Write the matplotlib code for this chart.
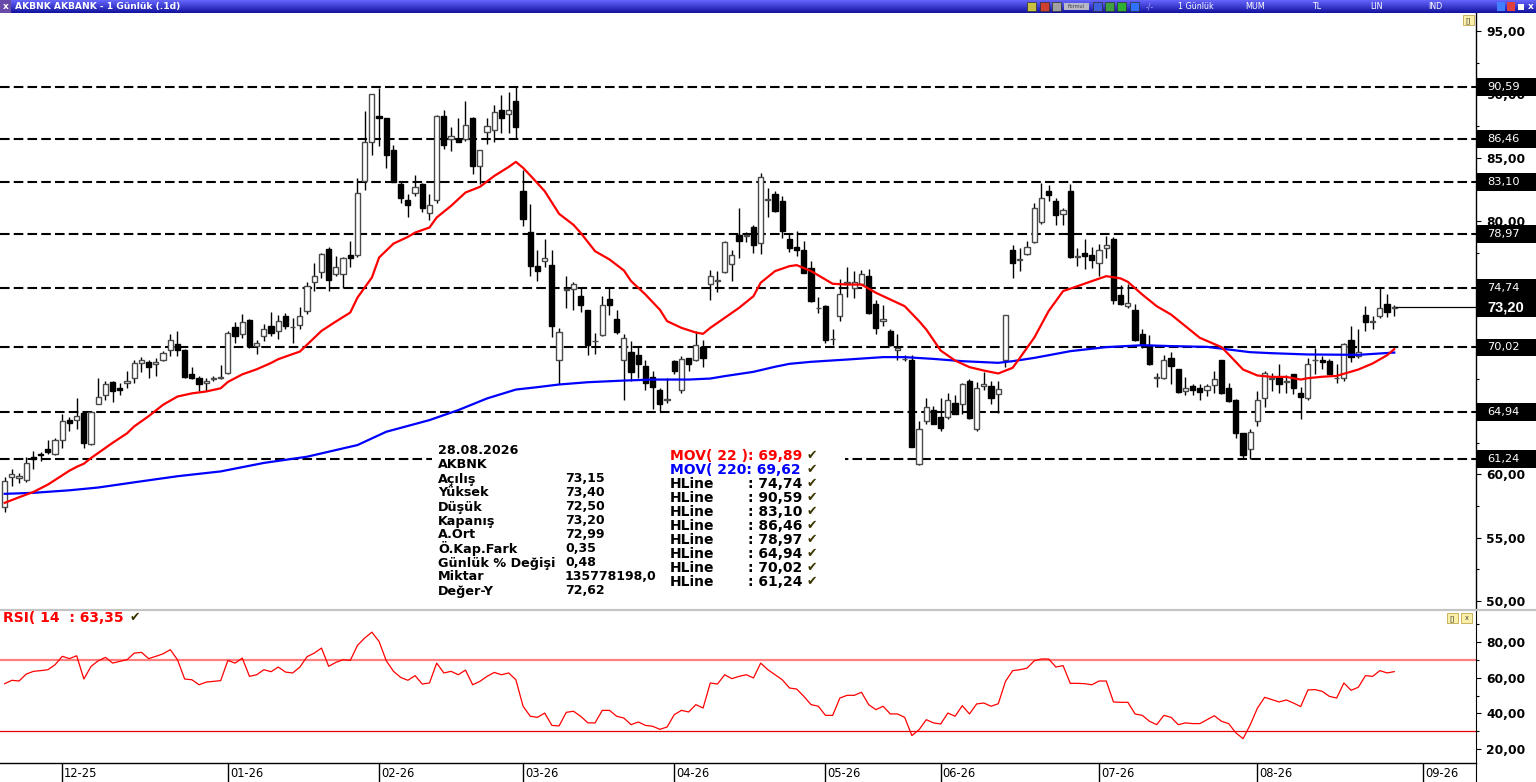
import numpy as np
import matplotlib
matplotlib.use("Agg")
import matplotlib.pyplot as plt
from matplotlib.patches import Rectangle
from matplotlib.transforms import blended_transform_factory, ScaledTranslation
from matplotlib.ticker import MultipleLocator, FixedLocator, FuncFormatter

plt.rcParams['font.family'] = ['DejaVu Sans']

# ---------------- data ----------------
opens = [
    57.4, 59.8, 59.7, 59.6, 61.4, 61.6, 62.0, 61.65, 62.75, 64.3,
    64.3, 64.85, 62.4, 65.6, 66.3, 67.3, 66.8, 67.2, 67.6, 68.8,
    68.9, 68.7, 69.0, 69.8, 70.3, 69.85, 67.9, 67.6, 67.2, 67.55,
    67.65, 68.0, 71.6, 71.1, 72.2, 70.15, 70.95, 71.7, 71.35, 72.5,
    71.6, 71.8, 72.9, 75.2, 76.0, 77.8, 75.85, 75.8, 77.35, 77.3,
    83.2, 86.25, 88.3, 88.1, 85.6, 82.9, 81.7, 82.2, 82.9, 80.6,
    81.65, 88.3, 86.5, 86.45, 86.45, 88.15, 84.35, 87.0, 87.15, 88.8,
    88.45, 89.5, 82.4, 79.15, 76.45, 76.85, 76.5, 69.0, 74.55, 74.6,
    74.05, 72.95, 70.5, 71.0, 73.85, 72.25, 69.05, 69.7, 69.45, 68.55,
    67.7, 66.7, 65.9, 68.95, 66.65, 69.2, 69.0, 70.05, 75.0, 75.3,
    76.0, 76.6, 78.9, 78.85, 79.5, 78.3, 81.7, 82.15, 81.6, 78.6,
    77.95, 77.75, 76.3, 73.15, 73.3, 70.7, 72.5, 75.1, 74.7, 75.05,
    75.7, 73.45, 72.1, 71.3, 69.8, 69.15, 69.05, 60.85, 64.2, 65.05,
    64.5, 64.5, 65.65, 65.6, 67.4, 63.6, 66.95, 66.95, 66.35, 69.05,
    77.75, 76.95, 77.4, 78.35, 79.9, 82.4, 81.6, 80.55, 82.35, 77.2,
    77.5, 77.35, 76.7, 77.9, 78.6, 74.2, 73.3, 73.0, 71.1, 70.2,
    67.65, 67.6, 69.2, 68.3, 66.6, 67.0, 66.8, 66.65, 67.05, 69.0,
    66.8, 65.9, 63.3, 62.0, 64.2, 66.0, 67.55, 67.7, 67.3, 67.9,
    66.4, 66.05, 69.0, 69.0, 68.95, 67.6, 67.65, 70.6, 69.35, 72.6,
    72.05, 72.5, 73.45, 73.15]
highs = [
    59.8, 60.45, 60.1, 61.4, 61.85, 61.75, 62.75, 62.9, 64.75, 64.5,
    66.05, 64.9, 65.0, 67.6, 67.35, 67.4, 67.25, 68.15, 69.0, 69.3,
    69.05, 69.2, 69.75, 71.1, 71.35, 69.9, 68.5, 67.8, 67.65, 67.8,
    68.65, 71.35, 72.0, 72.7, 72.25, 70.6, 71.9, 72.85, 72.6, 72.75,
    72.35, 73.25, 75.15, 76.65, 77.45, 77.95, 77.25, 77.15, 78.4, 83.4,
    88.7, 90.05, 90.5, 88.15, 86.0, 83.2, 82.1, 83.6, 83.0, 82.1,
    88.4, 88.8, 87.45, 88.15, 89.45, 88.2, 85.6, 88.15, 89.15, 89.95,
    90.15, 90.6, 84.0, 81.35, 77.7, 78.6, 77.7, 71.55, 75.65, 75.2,
    74.7, 72.95, 71.2, 74.05, 74.75, 73.0, 71.1, 70.55, 70.15, 69.0,
    68.2, 66.85, 67.6, 69.0, 69.35, 69.2, 71.35, 70.65, 76.1, 76.05,
    78.45, 77.7, 81.05, 79.15, 79.7, 83.8, 82.6, 82.4, 81.95, 79.05,
    79.25, 78.4, 76.85, 74.0, 73.4, 71.45, 75.4, 76.35, 76.05, 76.1,
    76.2, 73.75, 73.4, 71.45, 71.1, 69.45, 69.45, 64.2, 66.0, 65.4,
    66.05, 66.45, 66.3, 67.25, 67.5, 67.3, 68.1, 67.35, 67.4, 72.55,
    78.1, 77.85, 78.4, 81.45, 83.0, 82.85, 81.8, 81.0, 82.95, 77.85,
    78.55, 77.95, 78.2, 78.8, 78.75, 74.95, 75.0, 73.45, 71.45, 71.0,
    68.0, 69.45, 69.7, 68.35, 67.7, 67.1, 67.1, 67.1, 68.2, 69.05,
    67.25, 65.95, 63.3, 63.55, 66.55, 68.2, 68.0, 68.75, 67.85, 67.9,
    66.9, 69.2, 69.95, 69.35, 69.1, 68.75, 70.4, 71.7, 71.45, 73.3,
    72.5, 74.75, 74.25, 73.40]
lows = [
    57.0, 59.05, 59.3, 59.4, 60.4, 61.1, 61.65, 61.5, 62.05, 63.4,
    63.6, 62.05, 62.3, 65.55, 65.85, 65.7, 66.25, 66.85, 67.25, 68.05,
    67.6, 67.8, 68.95, 69.35, 69.35, 67.65, 67.55, 66.6, 66.6, 67.4,
    67.55, 67.95, 70.4, 70.8, 70.0, 69.5, 70.55, 70.95, 70.7, 71.45,
    70.4, 71.45, 72.65, 74.45, 75.5, 74.45, 75.65, 74.75, 76.35, 77.15,
    82.45, 85.2, 85.95, 84.15, 83.05, 81.45, 80.35, 82.0, 80.75, 80.05,
    81.4, 85.65, 85.5, 86.2, 86.3, 83.75, 82.9, 86.05, 86.25, 86.95,
    86.95, 86.45, 79.6, 75.65, 75.3, 76.35, 70.85, 67.15, 73.1, 72.95,
    72.85, 69.45, 69.5, 70.9, 72.55, 71.05, 65.85, 67.4, 67.6, 66.7,
    65.2, 64.95, 65.65, 67.9, 66.45, 68.2, 68.95, 68.45, 73.75, 74.4,
    75.9, 75.3, 77.1, 78.35, 77.5, 77.4, 80.3, 80.75, 78.7, 77.55,
    77.25, 75.9, 73.65, 72.75, 70.4, 70.2, 72.15, 74.0, 73.9, 74.95,
    72.7, 71.05, 71.7, 70.15, 69.0, 68.95, 62.2, 60.75, 63.95, 63.95,
    63.4, 64.4, 64.75, 64.75, 64.4, 63.45, 66.7, 65.55, 64.85, 68.45,
    75.5, 76.05, 77.35, 78.3, 79.75, 81.55, 79.7, 79.7, 77.05, 76.45,
    76.25, 76.3, 75.65, 77.1, 73.45, 73.4, 73.1, 70.55, 70.0, 68.6,
    66.9, 67.5, 67.15, 66.45, 66.25, 66.25, 65.9, 66.2, 66.45, 66.35,
    65.75, 62.9, 61.2, 61.2, 63.8, 65.3, 66.55, 66.45, 66.45, 66.35,
    64.4, 65.85, 67.9, 68.3, 67.9, 67.2, 67.35, 68.85, 69.2, 71.35,
    71.45, 72.35, 72.45, 72.50]
closes = [
    59.45, 60.0, 59.9, 60.9, 61.2, 61.55, 61.8, 62.75, 64.2, 64.05,
    64.6, 62.45, 64.9, 66.15, 67.15, 66.6, 66.7, 67.4, 68.8, 69.05,
    68.5, 68.9, 69.55, 70.6, 69.8, 67.7, 67.6, 67.1, 67.4, 67.6,
    67.7, 71.2, 70.95, 72.05, 70.1, 70.4, 71.45, 71.2, 72.15, 71.75,
    71.6, 72.5, 74.85, 75.7, 77.4, 75.35, 76.35, 77.1, 77.1, 82.2,
    86.2, 90.0, 88.15, 85.2, 83.05, 81.8, 81.3, 82.7, 81.0, 81.3,
    88.3, 86.0, 86.7, 86.2, 87.6, 84.35, 85.6, 87.5, 88.6, 88.15,
    88.8, 87.4, 80.2, 76.45, 76.05, 77.05, 71.75, 71.25, 74.65, 75.05,
    73.35, 70.25, 70.55, 73.4, 73.35, 71.25, 70.75, 68.1, 68.7, 67.25,
    66.9, 65.55, 65.95, 68.2, 69.15, 68.75, 70.25, 69.2, 75.7, 75.35,
    78.35, 77.3, 78.45, 78.9, 78.1, 83.45, 81.75, 80.8, 79.2, 77.9,
    77.7, 75.9, 73.7, 73.15, 70.65, 70.7, 74.25, 75.15, 75.2, 75.8,
    72.75, 71.55, 72.3, 70.25, 70.0, 69.15, 62.2, 63.55, 65.3, 64.0,
    63.7, 65.85, 64.8, 67.1, 64.45, 66.85, 67.1, 66.05, 66.75, 72.55,
    76.7, 77.0, 77.95, 81.05, 81.8, 82.05, 80.5, 80.9, 77.15, 77.25,
    77.25, 76.95, 77.75, 78.1, 73.75, 73.45, 73.55, 70.65, 70.2, 68.75,
    67.7, 69.05, 68.55, 66.5, 66.8, 66.7, 66.5, 66.95, 67.55, 66.45,
    65.8, 63.3, 61.55, 63.35, 65.9, 68.0, 67.6, 67.1, 67.35, 66.8,
    66.15, 68.75, 69.05, 68.85, 67.95, 67.65, 70.3, 69.25, 69.7, 72.05,
    72.1, 73.1, 72.85, 73.20]

rsi = [
    56.6, 58.5, 58.1, 62.0, 63.5, 63.9, 64.4, 67.2, 71.9, 70.6,
    72.2, 59.2, 66.3, 69.4, 71.3, 68.1, 69.1, 70.0, 73.7, 74.1,
    70.6, 71.9, 73.3, 75.6, 70.0, 59.2, 58.8, 56.0, 57.5, 57.9,
    58.3, 69.6, 68.1, 70.9, 60.7, 61.6, 64.4, 63.3, 65.9, 63.1,
    62.6, 65.9, 71.7, 73.7, 76.5, 66.3, 68.5, 70.0, 69.6, 78.0,
    82.1, 85.4, 80.2, 69.4, 63.5, 60.1, 58.5, 61.1, 56.4, 57.0,
    68.1, 62.6, 63.5, 61.6, 64.2, 56.0, 57.9, 60.7, 62.9, 61.6,
    62.6, 58.8, 44.0, 38.4, 37.8, 40.2, 33.3, 33.0, 40.6, 41.2,
    38.4, 34.7, 34.7, 41.7, 41.7, 38.4, 37.4, 33.7, 35.2, 33.3,
    32.8, 31.1, 32.4, 39.3, 41.7, 40.8, 44.9, 43.0, 57.0, 56.4,
    61.6, 59.4, 60.7, 61.6, 59.8, 68.1, 64.4, 61.6, 58.8, 54.2,
    53.6, 49.5, 44.9, 44.0, 38.9, 38.9, 48.6, 50.1, 50.1, 51.8,
    44.9, 42.1, 44.0, 39.7, 39.7, 37.8, 27.6, 30.9, 36.5, 34.7,
    34.1, 40.2, 38.4, 44.3, 39.7, 45.3, 45.8, 44.0, 45.4, 57.9,
    63.9, 64.4, 65.3, 69.4, 70.4, 70.4, 65.9, 66.7, 56.8, 56.8,
    56.6, 56.0, 58.1, 58.1, 46.4, 46.2, 46.2, 39.7, 38.9, 35.6,
    33.7, 38.9, 37.8, 33.7, 34.7, 34.3, 34.3, 36.5, 38.7, 35.6,
    34.3, 29.1, 25.9, 33.7, 43.0, 49.0, 47.7, 46.4, 47.5, 45.8,
    43.8, 53.1, 53.3, 52.3, 49.5, 48.6, 57.0, 52.9, 54.6, 61.1,
    60.7, 63.9, 62.6, 63.35]

ma22_idx = [0, 2, 4, 6, 9, 10, 11, 12, 14, 15, 17, 18, 20, 21, 22, 24, 26, 28, 30, 31,
            33, 35, 37, 38, 41, 44, 46, 48, 49, 51, 52, 54, 56, 57, 59, 60, 62, 64, 66, 68,
            70, 71, 72, 73, 75, 77, 79, 80, 82, 84, 86, 87, 89, 91, 92, 94, 96, 97, 98, 100,
            102, 104, 105, 107, 109, 110, 112, 115, 117, 119, 121, 123, 125, 127, 128, 130,
            132, 134, 136, 138, 140, 141, 143, 145, 147, 149, 151, 153, 155, 156, 158, 160,
            162, 164, 166, 169, 170, 172, 174, 176, 178, 180, 181, 183, 185, 188, 190, 192, 193]
ma22_val = [57.76, 58.2, 58.62, 59.2, 60.3, 60.6, 60.85, 61.3, 62.1, 62.5, 63.25, 63.8, 64.6,
            65.05, 65.5, 66.15, 66.4, 66.55, 66.8, 67.3, 67.9, 68.3, 68.8, 69.1, 69.7, 71.33,
            72.07, 72.78, 73.96, 75.54, 77.12, 78.22, 78.75, 79.09, 79.49, 80.28, 81.2, 82.25,
            82.7, 83.56, 84.27, 84.67, 84.2, 83.6, 82.36, 80.57, 79.7, 79.07, 77.62, 76.97,
            76.1, 75.26, 74.2, 73.0, 72.1, 71.57, 71.2, 71.1, 71.57, 72.36, 73.15, 74.07,
            75.13, 76.05, 76.44, 76.52, 76.05, 75.05, 74.99, 74.99, 74.34, 73.81, 73.28, 72.1,
            71.44, 69.78, 68.99, 68.47, 68.2, 67.97, 68.42, 69.2, 70.8, 72.9, 74.47, 74.86,
            75.26, 75.65, 75.47, 75.2, 74.2, 73.28, 72.62, 71.7, 70.78, 70.05, 69.47, 68.28,
            67.81, 67.7, 67.7, 67.49, 67.6, 67.71, 67.78, 68.28, 68.76, 69.41, 69.89]
ma220_idx = [0, 4, 9, 13, 18, 24, 30, 36, 42, 49, 53, 59, 63, 67, 71, 74, 77, 81, 86, 90,
             95, 98, 100, 104, 107, 109, 112, 117, 122, 125, 129, 133, 138, 140, 143, 145,
             148, 153, 158, 162, 167, 170, 173, 176, 181, 188, 193]
ma220_val = [58.47, 58.55, 58.75, 58.97, 59.38, 59.86, 60.24, 60.91, 61.4, 62.32, 63.37,
             64.29, 65.08, 66.0, 66.7, 66.89, 67.1, 67.28, 67.41, 67.49, 67.49, 67.57, 67.76,
             68.1, 68.5, 68.73, 68.89, 69.07, 69.26, 69.26, 69.12, 68.94, 68.81, 68.94, 69.2,
             69.41, 69.73, 70.05, 70.2, 70.13, 70.07, 69.86, 69.65, 69.57, 69.47, 69.44, 69.62]

hline_levels = [74.74, 90.59, 83.10, 86.46, 78.97, 64.94, 70.02, 61.24]

month_ticks = [8, 31, 52, 72, 93, 114, 130, 152, 174, 197]
month_labels = ["12-25", "01-26", "02-26", "03-26", "04-26", "05-26", "06-26",
                "07-26", "08-26", "09-26"]

info_date = "28.08.2026"
info_symbol = "AKBNK"
info_avg = 72.99
info_diff = 0.35
info_pct = 0.48
info_volume = 135778198.0
info_value = 72.62
rsi_period = 14
ma_short, ma_long = 22, 220

# ---------------- layout ----------------
W, H, DPI = 1536, 782, 100
fig = plt.figure(figsize=(W / DPI, H / DPI), dpi=DPI)
fig.patch.set_facecolor('white')


def fr(x0, y0, x1, y1):
    return [x0 / W, 1 - y1 / H, (x1 - x0) / W, (y1 - y0) / H]


def cfmt(v, d=2):
    return f"{v:.{d}f}".replace('.', ',')


XL = (-0.65, 204.35)
ax = fig.add_axes(fr(0, 13, 1476, 608))
rax = fig.add_axes(fr(0, 610, 1476, 762))
dax = fig.add_axes(fr(0, 763, 1476, 782))

o = np.array(opens); h = np.array(highs); l = np.array(lows); c = np.array(closes)
x = np.arange(len(o))
up = c >= o

# ---------------- main pane ----------------
for lv in hline_levels:
    ax.axhline(lv, color='black', lw=1.5, ls=(0, (4.6, 2.0)), zorder=2)

ax.vlines(x, l, h, color='black', lw=1.0, zorder=3)
bot = np.minimum(o, c)
hei = np.abs(c - o)
ax.bar(x[up], hei[up], bottom=bot[up], width=0.72, facecolor='white',
       edgecolor='#4a4a4a', linewidth=1.0, zorder=4)
ax.bar(x[~up], hei[~up], bottom=bot[~up], width=0.72, facecolor='black',
       edgecolor='black', linewidth=1.0, zorder=4)

ax.plot(ma220_idx, ma220_val, color='#0000ff', lw=1.6, zorder=5)
ax.plot(ma22_idx, ma22_val, color='#ff0000', lw=1.6, zorder=5)

ax.set_xlim(*XL)
ax.set_ylim(49.46, 96.42)
ax.plot([x[-1] + 0.3, XL[1]], [c[-1], c[-1]], color='black', lw=0.9, zorder=5, clip_on=False)

covered = list(hline_levels) + [c[-1]]


def price_fmt(v, p):
    # labels hidden behind the level boxes on the right are not drawn
    if any(abs(v - lv) < 0.5 for lv in covered):
        return ""
    return cfmt(v)


ax.set_xticks([])
ax.yaxis.tick_right()
ax.yaxis.set_major_locator(MultipleLocator(5))
ax.yaxis.set_minor_locator(MultipleLocator(2.5))
ax.yaxis.set_major_formatter(FuncFormatter(price_fmt))
ax.tick_params(axis='y', which='major', length=3.6, width=0.8, pad=3.6,
               labelsize=8.8, colors='black')
ax.tick_params(axis='y', which='minor', length=2.5, width=0.8)
for t in ax.get_yticklabels():
    t.set_fontweight('bold')
for s in ['left', 'top', 'bottom']:
    ax.spines[s].set_visible(False)
ax.spines['right'].set_color('black')
ax.spines['right'].set_linewidth(1.0)

bt = blended_transform_factory(ax.transAxes, ax.transData)
bw = 60 / 1476
for lv in hline_levels:
    ax.add_patch(Rectangle((1.0 + 1 / 1476, lv - 0.71), bw, 1.42, transform=bt,
                           facecolor='black', edgecolor='none', clip_on=False, zorder=8))
    ax.text(1.0 + 11 / 1476, lv, cfmt(lv), transform=bt, color='white', fontsize=8.2,
            va='center', ha='left', clip_on=False, zorder=9)
ax.add_patch(Rectangle((1.0 + 1 / 1476, c[-1] - 0.79), bw, 1.58, transform=bt,
                       facecolor='black', edgecolor='none', clip_on=False, zorder=8))
ax.text(1.0 + 11 / 1476, c[-1], cfmt(c[-1]), transform=bt, color='white', fontsize=10.5,
        fontweight='bold', family='Liberation Sans', va='center', ha='left',
        clip_on=False, zorder=9)

# ---------------- RSI pane ----------------
rax.axhline(70, color='#ff8080', lw=1.6, zorder=2)
rax.axhline(30, color='#e80000', lw=0.9, zorder=2)
rax.plot(x, rsi, color='#ff0000', lw=0.9, zorder=3)
rax.set_xlim(*XL)
rax.set_ylim(12.85, 97.77)
rax.set_xticks([])
rax.yaxis.tick_right()
rax.yaxis.set_major_locator(FixedLocator([20, 40, 60, 80]))
rax.yaxis.set_minor_locator(FixedLocator([30, 50, 70, 90]))
rax.yaxis.set_major_formatter(FuncFormatter(lambda v, p: cfmt(v)))
rax.tick_params(axis='y', which='major', length=3.6, width=0.8, pad=3.6, labelsize=8.8)
rax.tick_params(axis='y', which='minor', length=2.5, width=0.8)
for t in rax.get_yticklabels():
    t.set_fontweight('bold')
for s in ['left', 'top', 'bottom']:
    rax.spines[s].set_visible(False)
rax.spines['right'].set_color('black')

# ---------------- date bar ----------------
dax.set_xlim(*XL)
dax.set_ylim(0, 1)
dax.vlines(month_ticks, 0, 1, color='black', lw=1.0)
off = ScaledTranslation(2 / DPI, 0, fig.dpi_scale_trans)
for t, lab in zip(month_ticks, month_labels):
    dax.text(t, 0.45, lab, transform=dax.transData + off, fontsize=8.3,
             va='center', ha='left', color='black', clip_on=False)
dax.set_xticks([]); dax.set_yticks([])
for s in ['left', 'top', 'bottom']:
    dax.spines[s].set_visible(False)
dax.spines['right'].set_color('black')

# ---------------- overlay (title bar, texts, separators) ----------------
oax = fig.add_axes([0, 0, 1, 1], zorder=10)
oax.set_xlim(0, W); oax.set_ylim(H, 0)
oax.axis('off')
oax.patch.set_alpha(0)

grad = np.linspace(0, 1, 64).reshape(-1, 1)
top_col = np.array([0.40, 0.40, 1.0]); bot_col = np.array([0.07, 0.07, 0.62])
img = top_col[None, None, :] * (1 - grad[:, :, None]) + bot_col[None, None, :] * grad[:, :, None]
oax.imshow(np.repeat(img, 4, axis=1), extent=(0, W, 13, 0), aspect='auto', zorder=1,
           interpolation='bilinear')
oax.add_patch(Rectangle((0, 0), 11, 13, facecolor='#6a4aa8', edgecolor='none', zorder=2))
oax.text(5.5, 6.5, "x", color='white', fontsize=6.5, fontweight='bold', ha='center',
         va='center', zorder=3)
oax.text(15, 6.7, f"{info_symbol} AKBANK - 1 Günlük (.1d)", color='white', fontsize=6.6,
         fontweight='bold', ha='left', va='center', zorder=3)
icon_cols = [('#c8c040', 1027), ('#d04030', 1040), ('#a0a0a0', 1052), ('#4060e0', 1093),
             ('#40a040', 1105), ('#30b030', 1117), ('#3070ff', 1130)]
for col, xx in icon_cols:
    oax.add_patch(Rectangle((xx, 2), 9, 9, facecolor=col, edgecolor='#303030', lw=0.5, zorder=2))
oax.add_patch(Rectangle((1064, 3), 25, 7, facecolor='#b8b8c8', edgecolor='none', zorder=2))
oax.text(1076, 6.6, "Formul", fontsize=3.5, color='#404040', ha='center', va='center', zorder=3)
oax.text(1150, 6.6, "-/-", fontsize=5.5, color='#a0a0ff', ha='center', va='center', zorder=3)
for txt, xx in [("1 Günlük", 1178), ("MUM", 1245), ("TL", 1312), ("LIN", 1370), ("IND", 1428)]:
    oax.text(xx, 6.6, txt, fontsize=5.8, color='white', ha='left', va='center', zorder=3)
oax.add_patch(Rectangle((1497, 2), 8, 9, facecolor='#4080ff', edgecolor='none', zorder=2))
oax.add_patch(Rectangle((1507, 2), 8, 9, facecolor='#e04040', edgecolor='none', zorder=2))
oax.add_patch(Rectangle((1518, 4), 6, 6, facecolor='white', edgecolor='none', zorder=2))
oax.text(1531, 6.5, "x", fontsize=6.5, color='white', fontweight='bold', ha='center',
         va='center', zorder=3)


def small_btn(x0, y0, label):
    oax.add_patch(Rectangle((x0, y0), 11, 10, facecolor='#fbf0a8', edgecolor='#c0a850',
                            lw=0.6, zorder=4))
    oax.text(x0 + 5.5, y0 + 5.2, label, fontsize=4.8, color='#404040', ha='center',
             va='center', zorder=5)


small_btn(1463, 15, "[]")
small_btn(1447, 613, "[]")
small_btn(1461, 613, "x")

# pane separators
oax.plot([0, W], [609.5, 609.5], color='#c4c4c4', lw=1.6, zorder=3)
oax.plot([0, 1476], [762.5, 762.5], color='black', lw=1.0, zorder=3)

# info block (white background hides the dashed line behind it)
oax.add_patch(Rectangle((432, 443), 413, 157, facecolor='white', edgecolor='none', zorder=2))
labels_left = [info_date, info_symbol, "Açılış", "Yüksek", "Düşük", "Kapanış", "A.Ort",
               "Ö.Kap.Fark", "Günlük % Değişi", "Miktar", "Değer-Y"]
vals_left = ["", "", cfmt(o[-1]), cfmt(h[-1]), cfmt(l[-1]), cfmt(c[-1]), cfmt(info_avg),
             cfmt(info_diff), cfmt(info_pct), cfmt(info_volume, 1), cfmt(info_value)]
for k, (lab, val) in enumerate(zip(labels_left, vals_left)):
    yy = 451 + 14 * k
    oax.text(438, yy, lab, fontsize=9.2, fontweight='bold', color='black', ha='left',
             va='center', zorder=4)
    if val:
        oax.text(565, yy, val, fontsize=9, fontweight='bold', color='black', ha='left',
                 va='center', zorder=4)

CHECK_COL = '#3a3400'
rows = [(f"MOV( {ma_short} ): {cfmt(ma22_val[-1])}", '#ff0000'),
        (f"MOV( {ma_long}: {cfmt(ma220_val[-1])}", '#0000ff')]
for k, (txt, col) in enumerate(rows):
    yy = 456 + 14 * k
    oax.text(670, yy, txt, fontsize=10, fontweight='bold', color=col, ha='left',
             va='center', zorder=4)
    oax.text(807, yy, "✔", fontsize=9, color=CHECK_COL, ha='left', va='center', zorder=4)
for k, lv in enumerate(hline_levels):
    yy = 456 + 14 * (k + 2)
    oax.text(670, yy, "HLine", fontsize=10, fontweight='bold', color='black', ha='left',
             va='center', zorder=4)
    oax.text(748, yy, f": {cfmt(lv)}", fontsize=10, fontweight='bold', color='black',
             ha='left', va='center', zorder=4)
    oax.text(807, yy, "✔", fontsize=9, color=CHECK_COL, ha='left', va='center', zorder=4)

oax.text(3, 617.5, f"RSI( {rsi_period}  : {cfmt(rsi[-1])}", fontsize=10, fontweight='bold',
         color='#ff0000', ha='left', va='center', zorder=4)
oax.text(130, 618, "✔", fontsize=9, color=CHECK_COL, ha='left', va='center', zorder=4)

fig.savefig("out.png", dpi=DPI, facecolor='white')
